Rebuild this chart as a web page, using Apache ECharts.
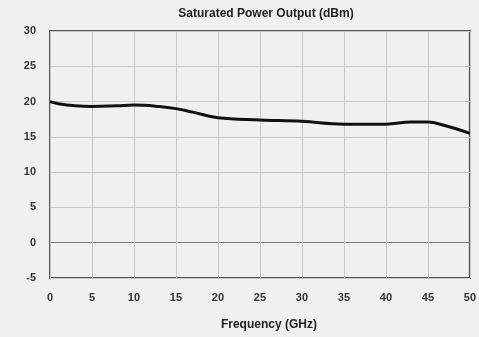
<!DOCTYPE html>
<html>
<head>
<meta charset="utf-8">
<script src="https://cdn.jsdelivr.net/npm/echarts@6/dist/echarts.min.js"></script>
<style>
  html, body { margin: 0; padding: 0; background: #f0f0f0; }
  #chart { width: 479px; height: 337px; }
</style>
</head>
<body>
<div id="chart"></div>
<script>
// frequency (GHz) and saturated power (dBm)
var freqData = [0, 1, 3, 5, 8, 10, 13, 15, 17, 20, 25, 30, 35, 40, 43, 45, 47, 50];
var powerData = [20.0, 19.7, 19.4, 19.3, 19.4, 19.5, 19.3, 19.0, 18.5, 17.7, 17.4, 17.2, 16.8, 16.8, 17.1, 17.1, 16.6, 15.5];
var xTicks = [0, 5, 10, 15, 20, 25, 30, 35, 40, 45, 50];
var yTicks = [-5, 0, 5, 10, 15, 20, 25, 30];

var points = [];
for (var i = 0; i < freqData.length; i++) {
  points.push([freqData[i], powerData[i]]);
}

// 0 dBm line is drawn darker than the rest
var gridColors = [];
for (var j = 0; j < yTicks.length; j++) {
  gridColors.push(yTicks[j] === 0 ? '#7a7a7a' : '#c8c8c8');
}

var myChart = echarts.init(document.getElementById('chart'));
var option = {
  backgroundColor: '#f0f0f0',
  animation: false,
  title: {
    text: 'Saturated Power Output (dBm)',
    left: 261,
    textAlign: 'center',
    top: 3,
    textStyle: { fontFamily: 'Liberation Sans', fontSize: 12, fontWeight: 'bold', color: '#222' }
  },
  grid: {
    left: 50,
    right: 6,
    top: 31,
    bottom: 59,
    show: true,
    borderColor: '#555',
    borderWidth: 2,
    backgroundColor: 'transparent'
  },
  xAxis: {
    type: 'value',
    min: xTicks[0],
    max: xTicks[xTicks.length - 1],
    interval: 5,
    name: 'Frequency (GHz)',
    nameLocation: 'middle',
    nameGap: 41,
    nameTextStyle: { fontFamily: 'Liberation Sans', fontSize: 12, fontWeight: 'bold', color: '#222', padding: [0, 0, 0, 18] },
    axisLine: { show: false },
    axisTick: { show: false },
    axisLabel: { margin: 14, fontFamily: 'Liberation Sans', fontSize: 11, fontWeight: 'bold', color: '#333' },
    splitLine: { show: true, lineStyle: { color: '#c8c8c8', width: 1 } }
  },
  yAxis: {
    type: 'value',
    min: yTicks[0],
    max: yTicks[yTicks.length - 1],
    interval: 5,
    axisLine: { show: false },
    axisTick: { show: false },
    axisLabel: { margin: 14, fontFamily: 'Liberation Sans', fontSize: 11, fontWeight: 'bold', color: '#333' },
    splitLine: { show: true, lineStyle: { color: gridColors, width: 1 } }
  },
  series: [
    {
      type: 'line',
      data: points,
      smooth: 0.4,
      showSymbol: false,
      lineStyle: { color: '#111', width: 3 },
      z: 5
    }
  ]
};
option && myChart.setOption(option);
</script>
</body>
</html>
